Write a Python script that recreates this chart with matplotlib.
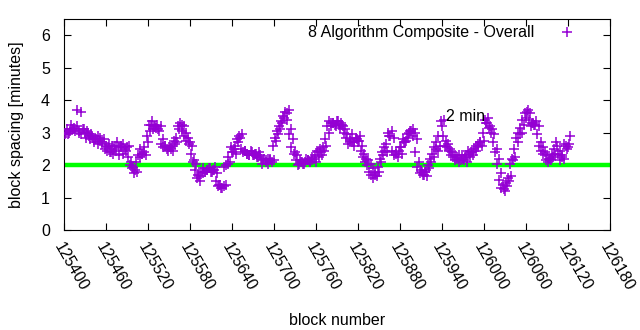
import numpy as np
import matplotlib.pyplot as plt

plt.rcParams['font.family'] = ['Liberation Sans', 'DejaVu Sans']
plt.rcParams['font.size'] = 11.5

# block spacing in minutes, sampled every 3 blocks from 125403
spacing_a = [
    3.00, 2.95, 3.05, 3.10, 3.15, 3.20, 3.05, 3.65, 3.10, 3.00,
    3.05, 2.90, 2.95, 2.85, 2.80, 2.90, 2.75, 2.70, 2.80, 2.60,
    2.55, 2.40, 2.60, 2.50, 2.45, 2.55, 2.60, 2.35, 2.50, 2.55,
    2.60, 2.10, 1.95, 1.85, 1.80, 2.25, 2.35, 2.40, 2.30, 2.70,
    3.05, 3.35, 3.20, 3.15, 3.10, 3.20, 2.80, 2.60, 2.50, 2.55,
    2.50, 2.45, 2.65, 2.70, 3.10, 3.25, 3.20, 3.00, 2.85, 2.70,
    2.60, 2.15, 2.05, 1.70, 1.50, 1.75, 1.80, 1.85, 1.90, 1.80,
    1.85, 1.95, 1.75, 1.40, 1.30, 1.35, 1.40, 2.05, 2.10, 2.40,
    2.50, 2.35, 2.70, 2.85, 2.95, 2.45, 2.35, 2.30, 2.45, 2.30,
    2.35, 2.25, 2.40, 2.20, 2.15, 2.10, 2.20, 2.15, 2.10, 2.15,
    2.75, 2.95, 3.10, 3.30, 3.45, 3.60, 3.70, 3.10, 2.80, 2.40,
    2.30, 2.05, 2.10, 2.05, 2.10, 2.15, 2.10, 2.15, 2.20, 2.10,
    2.40, 2.50, 2.30, 2.45, 2.60, 3.00, 3.30, 3.30, 3.25, 3.35,
    3.25, 3.30, 3.20, 3.10, 2.95, 2.80, 2.70, 2.60, 2.85, 2.75,
    2.90, 2.60, 2.35, 2.20, 2.15, 2.05, 1.90, 1.75, 1.65, 1.80,
    2.10, 2.30, 2.45, 2.40, 2.90, 3.05, 2.85, 2.35, 2.25, 2.55,
    2.35, 2.70, 2.75, 2.85, 3.05, 3.10, 3.00, 2.80, 2.10, 1.85,
    1.70, 1.80, 1.65, 1.90, 2.10, 2.25, 2.50, 2.45, 2.60, 3.20,
    3.40, 2.75, 2.65, 2.50, 2.40, 2.30, 2.20, 2.30, 2.15, 2.20,
    2.25, 2.10, 2.35, 2.40, 2.30, 2.45, 2.55, 2.70, 2.60, 2.75,
    3.30, 3.45, 3.20, 3.10, 2.95, 2.50, 2.20, 1.75, 1.40, 1.20,
    1.35, 1.50, 1.65, 2.15, 2.25, 2.70, 2.95, 3.00, 3.25, 3.45,
    3.70, 3.60, 3.30, 3.25, 3.35, 3.20, 2.70, 2.55, 2.40, 2.30,
    2.20, 2.15, 2.25, 2.30, 2.60, 2.45, 2.25, 2.20, 2.60, 2.55,
    2.90,
]

# the blocks in between, every 3 blocks from 125401
spacing_b = [
    2.95, 3.10, 3.00, 3.25, 3.10, 3.05, 3.70, 3.00, 2.95, 3.10,
    2.85, 3.00, 2.80, 2.90, 2.70, 2.80, 2.65, 2.85, 2.65, 2.50,
    2.45, 2.65, 2.40, 2.35, 2.60, 2.70, 2.30, 2.55, 2.65, 2.45,
    2.25, 2.00, 1.90, 1.75, 2.10, 2.30, 2.50, 2.35, 2.55, 2.90,
    3.25, 3.25, 3.10, 3.20, 3.25, 3.05, 2.65, 2.55, 2.60, 2.45,
    2.55, 2.60, 2.75, 2.85, 3.20, 3.30, 3.05, 2.90, 2.75, 2.65,
    2.35, 2.10, 1.85, 1.60, 1.65, 1.80, 1.90, 1.80, 1.85, 1.90,
    1.80, 1.85, 1.50, 1.35, 1.40, 1.30, 1.95, 2.00, 2.25, 2.55,
    2.40, 2.60, 2.80, 2.90, 2.50, 2.40, 2.45, 2.35, 2.30, 2.40,
    2.30, 2.35, 2.25, 2.30, 2.05, 2.20, 2.15, 2.05, 2.20, 2.60,
    2.85, 3.05, 3.20, 3.35, 3.50, 3.65, 3.40, 2.95, 2.55, 2.35,
    2.15, 2.00, 2.15, 2.10, 2.05, 2.20, 2.15, 2.10, 2.25, 2.30,
    2.45, 2.25, 2.40, 2.55, 2.80, 3.20, 3.35, 3.20, 3.30, 3.20,
    3.35, 3.15, 3.25, 3.00, 2.85, 2.65, 2.75, 2.95, 2.70, 2.80,
    2.75, 2.45, 2.25, 2.10, 2.00, 1.80, 1.70, 1.60, 1.70, 1.95,
    2.20, 2.40, 2.55, 2.65, 3.00, 2.90, 2.45, 2.30, 2.40, 2.45,
    2.55, 2.80, 2.70, 2.95, 3.00, 3.05, 2.90, 2.40, 1.95, 1.75,
    1.80, 1.70, 1.85, 2.00, 2.20, 2.35, 2.55, 2.70, 2.90, 3.35,
    2.90, 2.60, 2.55, 2.45, 2.30, 2.25, 2.15, 2.25, 2.10, 2.30,
    2.15, 2.30, 2.45, 2.25, 2.40, 2.50, 2.60, 2.65, 2.70, 3.00,
    3.40, 3.30, 3.15, 3.00, 2.70, 2.40, 2.05, 1.55, 1.30, 1.25,
    1.45, 1.60, 2.05, 2.20, 2.50, 2.85, 3.00, 3.15, 3.40, 3.60,
    3.65, 3.40, 3.20, 3.30, 3.25, 2.95, 2.60, 2.45, 2.35, 2.15,
    2.10, 2.20, 2.35, 2.50, 2.70, 2.35, 2.15, 2.30, 2.65, 2.50,
    2.65,
]

blocks_a = 125403 + 3 * np.arange(len(spacing_a))
blocks_b = 125401 + 3 * np.arange(len(spacing_b))
blocks = np.concatenate([blocks_a, blocks_b])
spacing = np.concatenate([spacing_a, spacing_b])

target = 2.0
xticks = np.arange(125400, 126181, 60)
yticks = [0, 1, 2, 3, 4, 5, 6]

fig = plt.figure(figsize=(6.4, 3.3), dpi=100)
ax = fig.add_axes([0.1, 0.303, 0.853, 0.639])

ax.axhline(target, color='#00ff00', lw=3.2, zorder=2)
ax.plot(blocks, spacing, '+', color='#9400d3', ms=7, mew=1.1,
        label='8 Algorithm Composite - Overall', zorder=3)
ax.text(125946, 3.5, '2 min', ha='left', va='center')

ax.set_xlim(125400, 126180)
ax.set_ylim(0, 6.5)
ax.set_xticks(xticks)
ax.set_xticklabels([str(t) for t in xticks], rotation=-60,
                   ha='left', va='top', rotation_mode='anchor')
ax.set_yticks(yticks)
ax.tick_params(direction='in', top=True, right=True, length=5, width=0.8)
ax.tick_params(axis='x', pad=7)
ax.tick_params(axis='y', pad=10)
ax.set_xlabel('block number', labelpad=14)
ax.set_ylabel('block spacing [minutes]', labelpad=12)

ax.legend(loc='upper right', bbox_to_anchor=(0.95, 0.97), frameon=False,
          markerfirst=False, handlelength=2.0, handletextpad=1.0,
          borderaxespad=0, borderpad=0)

fig.savefig('out.png', dpi=100)
